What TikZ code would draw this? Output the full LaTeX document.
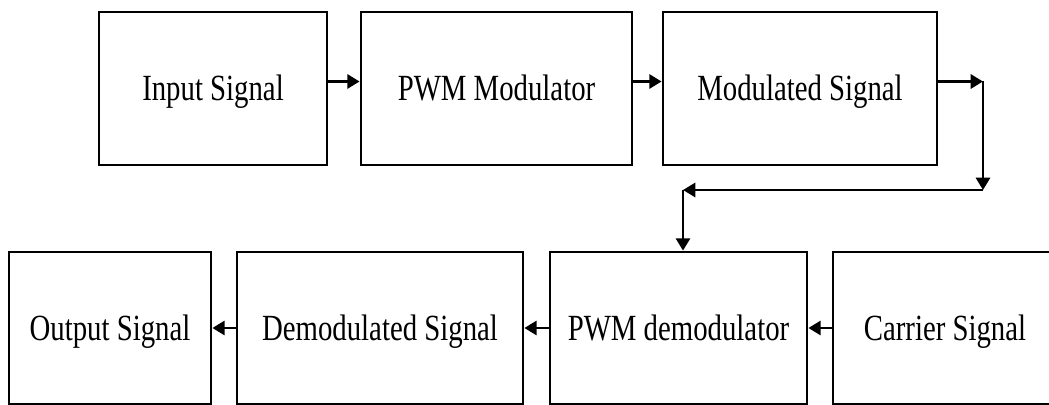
\documentclass[tikz,border=0pt]{standalone}
\usepackage{fontspec}
\setmainfont[FakeStretch=0.78]{Liberation Serif}
\usetikzlibrary{arrows.meta, calc, positioning}
\tikzset{
  blk/.style={
    rectangle, draw=black, fill=white,
    line width=1.6pt, inner sep=0pt, align=center,
    font=\fontsize{21}{25}\selectfont,
    text height=0.55cm, text depth=0.05cm,
    minimum height=3.06cm,
  },
  arr/.style={
    -{Triangle[length=7pt,width=8pt]},
    line width=1.6pt,
  },
}

\begin{document}
\begin{tikzpicture}[x=0.02cm,y=-0.02cm]

      \clip (0,0) rectangle (1049,405);

      % top row
      \node[blk, minimum width=4.56cm] (IN)  at (213,88.5)   {Input Signal};
      \node[blk, minimum width=5.42cm] (MOD) at (496.5,88.5) {PWM Modulator};
      \node[blk, minimum width=5.48cm] (MSG) at (800,88.5)   {Modulated Signal};

      % bottom row
      \node[blk, minimum width=4.04cm, minimum height=3.04cm] (OUT) at (110,328)   {Output Signal};
      \node[blk, minimum width=5.72cm, minimum height=3.04cm] (DSG) at (380,328)   {Demodulated Signal};
      \node[blk, minimum width=5.14cm, minimum height=3.04cm] (DEM) at (678.5,328) {PWM demodulator};
      \node[blk, minimum width=4.48cm, minimum height=3.04cm] (CAR) at (945,328)   {Carrier Signal};

      \draw[arr] ($(IN.east)+(0,-7)$)  -- ($(MOD.west)+(0,-7)$);
      \draw[arr] ($(MOD.east)+(0,-7)$) -- ($(MSG.west)+(0,-7)$);

      \coordinate (TURN1) at (983,81.5);
      \coordinate (TURN2) at (983,190);
      \coordinate (TURN3) at (683,190);
      \draw[arr] ($(MSG.east)+(0,-7)$) -- (TURN1);
      \draw[arr] (TURN1) -- (TURN2);
      \draw[arr] (TURN2) -- (TURN3);
      \draw[arr] (TURN3) -- (TURN3 |- DEM.north);

      \draw[arr] (CAR.west) -- (DEM.east);
      \draw[arr] (DEM.west) -- (DSG.east);
      \draw[arr] (DSG.west) -- (OUT.east);

    \end{tikzpicture}
\end{document}
